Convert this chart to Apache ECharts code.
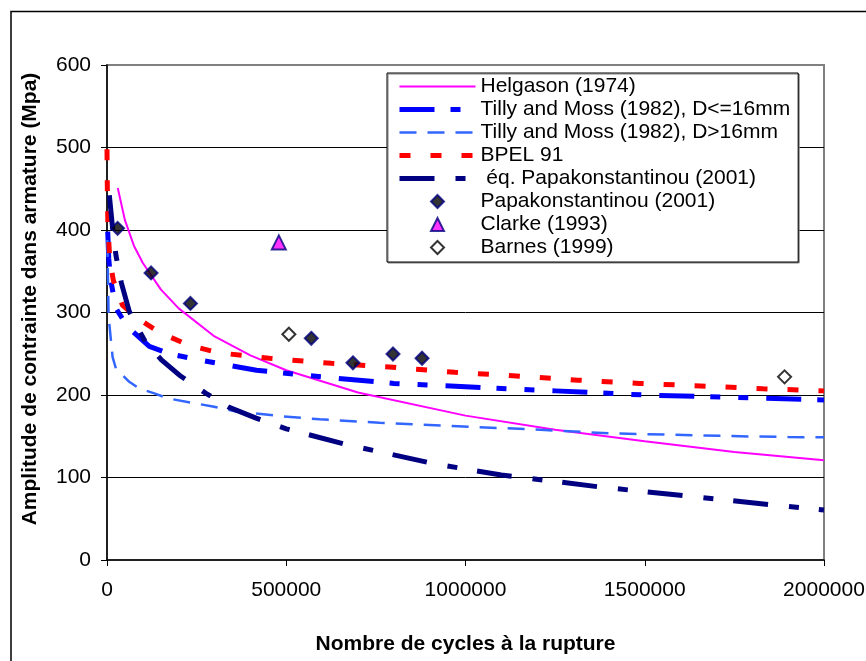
<!DOCTYPE html>
<html>
<head>
<meta charset="utf-8">
<script src="https://cdn.jsdelivr.net/npm/echarts@6/dist/echarts.min.js"></script>
<style>html,body{margin:0;padding:0;background:#fff;}#c{width:866px;height:661px;}</style>
</head>
<body>
<div id="c"></div>
<script>
// ---- Data: [cycles N, stress range S (MPa)] ----
const helgason = [[30000,451],[50000,412],[75000,381],[100000,360],[150000,328],[200000,305],[300000,271],[400000,248],[500000,230],[700000,203],[1000000,175],[1250000,158],[1500000,144],[1750000,131],[2000000,121]];
const tillySmall = [[2000,398],[5000,365],[10000,340],[25000,305],[48000,289],[71500,277],[118000,259],[174000,250],[250000,243],[417000,230],[550000,224],[800000,214],[1000000,210],[1250000,205],[1500000,200],[1750000,197],[2000000,194]];
const tillyLarge = [[1000,388],[4500,295],[15600,246],[25000,232],[62000,216],[90000,208],[132000,202],[169000,196],[295000,186],[360000,180],[481000,174.5],[593000,170.5],[760000,166.4],[947000,162.8],[1221000,157.6],[1403000,153.5],[1561000,152],[1729000,150.3],[1900000,149],[2000000,148.7]];
const bpel = [[0,498],[800,455],[2500,405],[7000,370],[11000,356],[17700,339],[43000,309],[85000,293],[150000,275],[230000,260],[314000,251],[453000,244.5],[626000,238.4],[798000,233.5],[970000,227.5],[1142000,223],[1314000,218],[1485000,214],[1656000,211],[1830000,207.6],[2000000,205]];
const papakEq = [[6500,442],[15000,405],[25000,369],[40000,336],[62300,301],[81000,285],[109000,263],[151000,243],[202000,224],[276000,202],[341000,185],[416000,172],[500000,159],[667000,140],[909000,117],[1100000,103],[1216000,97],[1375000,88.5],[1618000,77.6],[1858000,66.7],[2000000,60.6]];
const papakPts = [[29600,402],[122900,348],[232700,311],[569800,268.7],[686000,239],[797800,249.7],[878800,244.5]];
const clarkePts = [[479300,385]];
const barnesPts = [[507300,273.6],[1890000,222]];

const seriesNames = ['Helgason (1974)','Tilly and Moss (1982), D<=16mm','Tilly and Moss (1982), D>16mm','BPEL 91',' éq. Papakonstantinou (2001)','Papakonstantinou (2001)','Clarke (1993)','Barnes (1999)'];
const xTitle = 'Nombre de cycles à la rupture';
const yTitle = 'Amplitude de contrainte dans armature (Mpa)';

const FONT = "'Liberation Sans', Arial, sans-serif";
const DIAMOND = 'path://M1,0L2,1L1,2L0,1Z';
const TRIANGLE = 'path://M1,0L2,2L0,2Z';
const chart = echarts.init(document.getElementById('c'), null, {renderer:'canvas'});

function lineSeries(name, data, color, width, dash){
  return {name, type:'line', data, symbol:'none', showSymbol:false, smooth:false,
    lineStyle:{color, width, type:dash}, itemStyle:{color}, emphasis:{disabled:true}, z:2};
}

const option = {
  animation:false,
  backgroundColor:'#ffffff',
  graphic:[{type:'rect', shape:{x:11, y:11.5, width:900, height:700}, style:{fill:'none', stroke:'#000', lineWidth:1.5}, silent:true, z:-10}],
  grid:{left:107, top:65, width:717, height:495, show:true, borderColor:'#808080', borderWidth:2,
    backgroundColor:'transparent', outerBoundsMode:'none', containLabel:false},
  xAxis:{type:'value', min:0, max:2000000, interval:500000,
    name:xTitle, nameLocation:'middle', nameGap:74,
    nameTextStyle:{fontFamily:FONT, fontSize:21, fontWeight:'bold', color:'#000'},
    axisLine:{show:true, onZero:false, lineStyle:{color:'#000', width:1.5}},
    axisTick:{show:true, inside:false, length:6, lineStyle:{color:'#000'}},
    axisLabel:{fontFamily:FONT, fontSize:21, color:'#000', margin:20, formatter:(v)=>String(v)},
    splitLine:{show:false}},
  yAxis:{type:'value', min:0, max:600, interval:100,
    name:yTitle, nameLocation:'middle', nameGap:66,
    nameTextStyle:{fontFamily:FONT, fontSize:21, fontWeight:'bold', color:'#000', padding:[0,0,0,27]},
    axisLine:{show:true, onZero:false, lineStyle:{color:'#000', width:1.5}},
    axisTick:{show:true, inside:false, length:6, lineStyle:{color:'#000'}},
    axisLabel:{fontFamily:FONT, fontSize:21, color:'#000', margin:16, formatter:(v)=>String(v)},
    splitLine:{show:true, showMinLine:false, showMaxLine:false, lineStyle:{color:'#000', width:1}}},
  legend:{orient:'vertical', left:387, top:73, itemWidth:76, itemHeight:13, itemGap:0,
    padding:[2,8,3,10], borderColor:'#000', borderWidth:1, backgroundColor:'#fff',
    shadowColor:'#808080', shadowOffsetX:1, shadowOffsetY:1, shadowBlur:0,
    selectedMode:false, symbolKeepAspect:true,
    textStyle:{fontFamily:FONT, fontSize:21, color:'#000', lineHeight:23},
    data:[
      {name:seriesNames[0], itemStyle:{opacity:0}, lineStyle:{width:2}},
      {name:seriesNames[1], itemStyle:{opacity:0}, lineStyle:{width:5}},
      {name:seriesNames[2], itemStyle:{opacity:0}, lineStyle:{width:2.5}},
      {name:seriesNames[3], itemStyle:{opacity:0}, lineStyle:{width:5}},
      {name:seriesNames[4], itemStyle:{opacity:0}, lineStyle:{width:5}},
      {name:seriesNames[5], icon:DIAMOND, itemStyle:{color:'#000000', borderColor:'#000080', borderWidth:2}},
      {name:seriesNames[6], icon:TRIANGLE, itemStyle:{color:'#FF00FF', borderColor:'#000080', borderWidth:2}},
      {name:seriesNames[7], icon:DIAMOND, itemStyle:{color:'#FFFFFF', borderColor:'#000000', borderWidth:2}}
    ]},
  series:[
    lineSeries(seriesNames[0], helgason, '#FF00FF', 2, 'solid'),
    lineSeries(seriesNames[1], tillySmall, '#0000FF', 5, [35,16,10,18,10,18]),
    lineSeries(seriesNames[2], tillyLarge, '#3366FF', 2.5, [17,11]),
    lineSeries(seriesNames[3], bpel, '#FF0000', 5, [11,20]),
    lineSeries(seriesNames[4], papakEq, '#000080', 5, [35,21,10,20]),
    {name:seriesNames[5], type:'scatter', data:papakPts, symbol:'diamond', symbolSize:13,
      itemStyle:{color:'#000000', borderColor:'#000080', borderWidth:2}, emphasis:{disabled:true}, z:3},
    {name:seriesNames[6], type:'scatter', data:clarkePts, symbol:'triangle', symbolSize:14,
      itemStyle:{color:'#FF00FF', borderColor:'#000080', borderWidth:2}, emphasis:{disabled:true}, z:3},
    {name:seriesNames[7], type:'scatter', data:barnesPts, symbol:'diamond', symbolSize:13,
      itemStyle:{color:'#FFFFFF', borderColor:'#000000', borderWidth:2}, emphasis:{disabled:true}, z:3}
  ]
};
chart.setOption(option);
</script>
</body>
</html>
